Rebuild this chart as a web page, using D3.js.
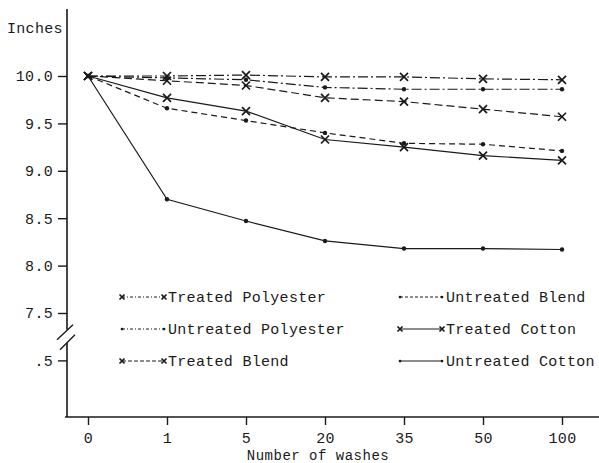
<!DOCTYPE html>
<html>
<head>
<meta charset="utf-8">
<script src="https://cdn.jsdelivr.net/npm/d3@7"></script>
<style>
	body { margin: 0; background: #fff; }
	svg text { font-family: "Liberation Mono", monospace; font-size: 15px; fill: #1a1a1a; letter-spacing: 0.3px; }
</style>
</head>
<body>
<div id="chart"></div>
<script>
// ----------------------------------
// DATA
// ----------------------------------

const washes = ["0", "1", "5", "20", "35", "50", "100"];

const treatedPolyester   = [10.0, 10.0, 10.01, 9.99, 9.99, 9.97, 9.96];
const untreatedPolyester = [10.0, 9.98, 9.96, 9.88, 9.86, 9.86, 9.86];
const treatedBlend       = [10.0, 9.95, 9.90, 9.77, 9.73, 9.65, 9.57];
const untreatedBlend     = [10.0, 9.66, 9.53, 9.40, 9.29, 9.28, 9.21];
const treatedCotton      = [10.0, 9.77, 9.63, 9.33, 9.25, 9.16, 9.11];
const untreatedCotton    = [10.0, 8.70, 8.47, 8.26, 8.18, 8.18, 8.17];

const yTicks = [7.5, 8.0, 8.5, 9.0, 9.5, 10.0];
const lowTicks = [0.5];

const seriesNames = ["Treated Polyester", "Untreated Polyester", "Treated Blend",
	"Untreated Blend", "Treated Cotton", "Untreated Cotton"];
const seriesValues = [treatedPolyester, untreatedPolyester, treatedBlend,
	untreatedBlend, treatedCotton, untreatedCotton];

// line look per series (same order as above)
const markers = ["x", "dot", "x", "dot", "x", "dot"];
const dashes = ["10,3,2,3", "10,3,2,3", "8,4", "6,4", null, null];
const legendDashes = ["3,2,1,2", "3,2,1,2", "4,2", "3,2", null, null];

// ----------------------------------
// LAYOUT
// ----------------------------------

const width = 599,
	height = 463,
	axisX = 67,
	axisTop = 9,
	axisBottom = 417,
	ink = "#1a1a1a";

const svg = d3.select("#chart")
	.append("svg")
	.attr("width", width)
	.attr("height", height);

// ----------------------------------
// SCALES
// ----------------------------------

const xScale = d3.scalePoint()
	.domain(washes)
	.range([88, 562]);

const yScale = d3.scaleLinear()
	.domain([7.5, 10])
	.range([313, 76]);

// the part under the axis break reuses the same inches per pixel
const yLow = d3.scaleLinear()
	.domain([0, 0.5])
	.range([yScale(6.5), yScale(7.0)]);

const breakY = (yScale(7.5) + yLow(0.5)) / 2;

// ----------------------------------
// AXES
// ----------------------------------

const yAxis = svg.append("g")
	.attr("transform", `translate(${axisX},0)`)
	.call(d3.axisLeft(yScale).tickValues(yTicks).tickFormat(d3.format(".1f")).tickSize(9).tickPadding(5));

const yAxisLow = svg.append("g")
	.attr("transform", `translate(${axisX},0)`)
	.call(d3.axisLeft(yLow).tickValues(lowTicks).tickFormat(() => ".5").tickSize(9).tickPadding(5));

const xAxis = svg.append("g")
	.attr("transform", `translate(0,${axisBottom})`)
	.call(d3.axisBottom(xScale).tickSize(8).tickPadding(7));

[yAxis, yAxisLow, xAxis].forEach(g => {
	g.select(".domain").remove();
	g.selectAll(".tick line").attr("stroke", ink).attr("stroke-width", 1.4);
	g.selectAll(".tick text").attr("fill", ink).style("font-size", "15px")
		.style("font-family", '"Liberation Mono", monospace');
});

// y axis line with a break
svg.append("path")
	.attr("d", `M${axisX},${axisTop}V${breakY - 7}M${axisX},${breakY + 6}V${axisBottom}`)
	.attr("stroke", ink)
	.attr("stroke-width", 1.6)
	.attr("fill", "none");

svg.append("path")
	.attr("d", `M${axisX - 10},${breakY + 3}L${axisX + 6},${breakY - 12}` +
		`M${axisX - 7},${breakY + 13}L${axisX + 8},${breakY - 2}`)
	.attr("stroke", ink)
	.attr("stroke-width", 1.4)
	.attr("fill", "none");

// x axis line
svg.append("line")
	.attr("x1", axisX - 2)
	.attr("x2", width)
	.attr("y1", axisBottom)
	.attr("y2", axisBottom)
	.attr("stroke", ink)
	.attr("stroke-width", 1.6);

svg.append("text")
	.attr("x", 7)
	.attr("y", 33)
	.text("Inches");

svg.append("text")
	.attr("x", 318)
	.attr("y", 460)
	.attr("text-anchor", "middle")
	.style("font-size", "14px")
	.style("letter-spacing", "0.5px")
	.text("Number of washes");

// ----------------------------------
// LINES AND MARKERS
// ----------------------------------

const line = d3.line()
	.x((d, i) => xScale(washes[i]))
	.y(d => yScale(d));

function drawMarker(g, type, cx, cy, size){
	if (type === "x"){
		g.append("path")
			.attr("d", `M${cx - size},${cy - size}L${cx + size},${cy + size}M${cx - size},${cy + size}L${cx + size},${cy - size}`)
			.attr("stroke", ink)
			.attr("stroke-width", 1.7)
			.attr("fill", "none");
	} else {
		g.append("circle")
			.attr("cx", cx)
			.attr("cy", cy)
			.attr("r", size * 0.55)
			.attr("fill", ink);
	}
}

const plot = svg.append("g");

seriesValues.forEach((values, idx) => {
	plot.append("path")
		.datum(values)
		.attr("d", line)
		.attr("fill", "none")
		.attr("stroke", ink)
		.attr("stroke-width", 1.2)
		.attr("stroke-dasharray", dashes[idx]);
});

seriesValues.forEach((values, idx) => {
	values.forEach((v, i) => {
		drawMarker(plot, markers[idx], xScale(washes[i]), yScale(v), 4);
	});
});

// ----------------------------------
// LEGEND
// ----------------------------------

const legendCols = [122, 400],
	legendRows = [302, 334, 366],
	sampleLength = 42;

seriesNames.forEach((name, idx) => {
	const col = Math.floor(idx / 3),
		row = idx % 3,
		x0 = legendCols[col],
		y0 = legendRows[row],
		ly = y0 - 5,
		g = svg.append("g");

	g.append("line")
		.attr("x1", x0)
		.attr("x2", x0 + sampleLength)
		.attr("y1", ly)
		.attr("y2", ly)
		.attr("stroke", ink)
		.attr("stroke-width", 1)
		.attr("stroke-dasharray", legendDashes[idx]);

	drawMarker(g, markers[idx], x0, ly, 2.5);
	drawMarker(g, markers[idx], x0 + sampleLength, ly, 2.5);

	g.append("text")
		.attr("x", x0 + sampleLength + 4)
		.attr("y", y0)
		.text(name);
});
</script>
</body>
</html>
